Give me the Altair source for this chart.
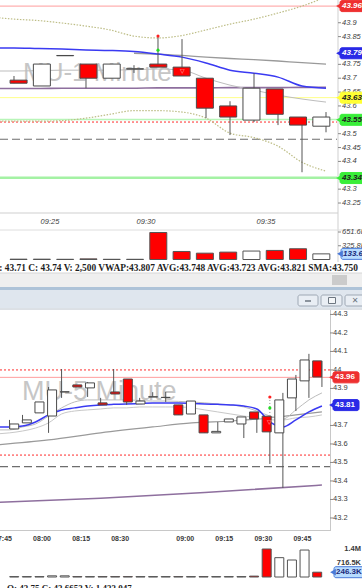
import altair as alt
import pandas as pd

# ======================= DATA =======================
# ---------- top window: MU 1-minute (bar index; 09:24 ... 09:37) ----------
top_bar = [0, 1, 2, 3, 4, 5, 6, 7, 8, 9, 10, 11, 12, 13]
top_open = [43.693, 43.672, 43.782, 43.751, 43.700, 43.734, 43.751, 43.740, 43.700, 43.600, 43.549, 43.661, 43.560, 43.527]
top_close = [43.682, 43.751, 43.781, 43.700, 43.751, 43.733, 43.740, 43.708, 43.592, 43.560, 43.664, 43.570, 43.531, 43.560]
top_high = [43.708, 43.751, 43.782, 43.751, 43.751, 43.747, 43.848, 43.841, 43.700, 43.617, 43.718, 43.661, 43.560, 43.578]
top_low = [43.682, 43.672, 43.781, 43.664, 43.700, 43.719, 43.740, 43.708, 43.556, 43.495, 43.542, 43.531, 43.361, 43.505]
top_dir = ["down", "up", "flat", "down", "up", "flat", "down", "down", "down", "down", "up", "down", "down", "up"]
top_volume = [8000, 8000, 5000, 15000, 5000, 5000, 640000, 190000, 150000, 175000, 200000, 215000, 255000, 133600]

top_line_bar = [-1, 0, 1, 2, 3, 4, 5, 6, 7, 8, 9, 10, 11, 12, 13]
top_vwap = [43.809, 43.809, 43.807, 43.805, 43.802, 43.800, 43.796, 43.787, 43.776, 43.755, 43.729, 43.718, 43.704, 43.672, 43.664]
top_upper_band = [43.921, 43.913, 43.908, 43.899, 43.888, 43.874, 43.852, 43.845, 43.854, 43.874, 43.895, 43.913, 43.935, 43.960, 43.993]
top_lower_band = [43.545, 43.545, 43.545, 43.547, 43.556, 43.570, 43.583, 43.583, 43.578, 43.556, 43.502, 43.486, 43.455, 43.397, 43.365]
top_avg_slow = [43.663, 43.663, 43.663, 43.664, 43.664, 43.664, 43.664, 43.665, 43.665, 43.665, 43.666, 43.666, 43.666, 43.667, 43.667]
top_avg_fast = [43.726, 43.726, 43.727, 43.729, 43.729, 43.729, 43.731, 43.733, 43.729, 43.700, 43.675, 43.657, 43.639, 43.625, 43.614]
top_sma_bar = [5, 6, 7, 8, 9, 10, 11, 12, 13]
top_sma = [43.790, 43.787, 43.782, 43.776, 43.771, 43.767, 43.762, 43.756, 43.751]

top_signal_bar = [6]
top_signal_red = [43.852]
top_signal_green = [43.801]
top_arrow_bar = [7]
top_arrow_price = [43.725]

top_level_resistance = 43.96
top_level_yellow = 43.63
top_level_green = 43.551
top_level_red_dotted = 43.542
top_level_dashed = 43.48
top_level_support = 43.341

top_tick_values = [43.9, 43.85, 43.75, 43.7, 43.65, 43.6, 43.5, 43.45, 43.4, 43.3, 43.25]
top_tick_labels = ["43.9", "43.85", "43.75", "43.7", "43.65", "43.6", "43.5", "43.45", "43.4", "43.3", "43.25"]
top_tag_values = [43.96, 43.79, 43.63, 43.55, 43.34]
top_tag_labels = ["43.96", "43.79", "43.63", "43.55", "43.34"]
top_time_pos = [1.5, 5.5, 10.5]
top_time_labels = ["09:25", "09:30", "09:35"]
top_vol_ticks = [651600, 325800]
top_vol_labels = ["651.6K", "325.8K"]
top_vol_tag = [133600]
top_vol_tag_label = ["133.6K"]
top_status = "L: 43.71 C: 43.74 V: 2,500 VWAP:43.807 AVG:43.748 AVG:43.723 AVG:43.821 SMA:43.750"

# ---------- bottom window: MU 5-minute (bar index; 07:45 ... 09:50) ----------
bot_bar = list(range(25))
bot_open = [43.681, 43.714, 43.768, 43.751, 43.882, 43.919, 43.903, 43.822, 43.881, 43.951, 43.816, 43.855, 43.852, 43.811, 43.762,
            43.757, 43.660, 43.719, 43.708, 43.773, 43.750, 43.660, 43.849, 43.941, 44.049]
bot_close = [43.708, 43.730, 43.827, 43.892, 43.881, 43.908, 43.930, 43.811, 43.870, 43.827, 43.832, 43.854, 43.851, 43.757, 43.832,
             43.660, 43.668, 43.735, 43.746, 43.735, 43.6653, 43.838, 43.951, 44.054, 43.962]
bot_high = [43.730, 43.757, 43.827, 43.908, 44.005, 43.919, 43.935, 43.849, 44.005, 43.951, 43.849, 43.880, 43.881, 43.811, 43.832,
            43.757, 43.719, 43.735, 43.746, 43.773, 43.750, 43.876, 43.973, 44.087, 44.049]
bot_low = [43.681, 43.714, 43.768, 43.660, 43.849, 43.908, 43.854, 43.811, 43.870, 43.811, 43.816, 43.854, 43.827, 43.757, 43.762,
           43.660, 43.660, 43.719, 43.632, 43.660, 43.492, 43.362, 43.778, 43.849, 43.908]
bot_dir = ["up", "up", "up", "up", "flat", "down", "up", "down", "down", "down", "up", "flat", "flat", "down", "up",
           "down", "up", "up", "up", "down", "down", "up", "up", "up", "down"]
bot_volume = [20000, 20000, 20000, 60000, 60000, 20000, 20000, 20000, 20000, 20000, 20000, 20000, 20000, 20000, 20000,
              20000, 20000, 20000, 20000, 45000, 1433047, 990000, 870000, 1380000, 246300]

bot_line_bar = list(range(-1, 25))
bot_vwap = [43.692, 43.692, 43.697, 43.719, 43.757, 43.784, 43.795, 43.805, 43.811, 43.814, 43.816, 43.819, 43.822, 43.822,
            43.822, 43.819, 43.816, 43.814, 43.811, 43.805, 43.789, 43.719, 43.692, 43.730, 43.773, 43.805]
bot_avg_a = [43.676, 43.676, 43.692, 43.708, 43.751, 43.795, 43.827, 43.838, 43.838, 43.838, 43.838, 43.835, 43.832, 43.832,
             43.830, 43.827, 43.822, 43.816, 43.811, 43.800, 43.778, 43.751, 43.735, 43.784, 43.838, 43.876]
bot_avg_b = [43.654, 43.660, 43.670, 43.686, 43.714, 43.762, 43.778, 43.784, 43.789, 43.795, 43.795, 43.800, 43.800, 43.800,
             43.800, 43.795, 43.784, 43.773, 43.762, 43.751, 43.741, 43.730, 43.730, 43.741, 43.746, 43.757]
bot_sma_bar = [-1, 3, 7, 11, 14, 17, 20, 22, 24]
bot_sma = [43.595, 43.622, 43.660, 43.692, 43.714, 43.724, 43.741, 43.757, 43.773]
bot_slow_bar = [-1, 7, 15, 24]
bot_slow = [43.284, 43.307, 43.338, 43.378]

bot_signal_bar = [20]
bot_signal_red = [43.854]
bot_signal_green = [43.795]
bot_arrow_price = [43.719]

bot_level_red_dotted_hi = 44.0
bot_level_resistance = 43.96
bot_level_red_dotted_lo = 43.54
bot_level_dashed = 43.478

bot_tick_values = [44.3, 44.2, 44.1, 44.0, 43.9, 43.7, 43.6, 43.5, 43.4, 43.3, 43.2]
bot_tick_labels = ["44.3", "44.2", "44.1", "44", "43.9", "43.7", "43.6", "43.5", "43.4", "43.3", "43.2"]
bot_tag_values = [43.96, 43.81]
bot_tag_labels = ["43.96", "43.81"]
bot_time_pos = [-0.5, 2.5, 5.5, 8.5, 13.5, 16.5, 19.5, 22.5]
bot_time_labels = ["07:45", "08:00", "08:15", "08:30", "09:00", "09:15", "09:30", "09:45"]
bot_vol_ticks = [1433047, 716500]
bot_vol_labels = ["1.4M", "716.5K"]
bot_vol_tag = [246300]
bot_vol_tag_label = ["246.3K"]
bot_status = "O: 43.75  C: 43.6653  V: 1,433,047"

# ======================= SCALES (panel placement) =======================
TX = alt.Scale(domain=[-0.583, 13.458], range=[0, 337], nice=False, zero=False)
TY = alt.Scale(domain=[43.214, 43.982], range=[213, 0], nice=False, zero=False)
TV = alt.Scale(domain=[0, 651600], range=[259.5, 232], nice=False, zero=False)
BX = alt.Scale(domain=[-0.73, 24.62], range=[0, 330], nice=False, zero=False)
BY = alt.Scale(domain=[43.135, 44.324], range=[530, 310], nice=False, zero=False)
BV = alt.Scale(domain=[0, 1433047], range=[577, 549], nice=False, zero=False)
DIR = alt.Scale(domain=["down", "up", "flat"], range=["#ff0000", "#ffffff", "#ffffff"])

ONE = pd.DataFrame({"k": [0]})
layers = []


def box(x0, x1, y0, y1, fill, stroke=None, sw=1, radius=0):
    p = dict(fill=fill)
    if stroke:
        p.update(stroke=stroke, strokeWidth=sw)
    if radius:
        p["cornerRadius"] = radius
    return alt.Chart(ONE).mark_rect(**p).encode(
        x=alt.value(x0), x2=alt.value(x1), y=alt.value(y0), y2=alt.value(y1))


def seg(x0, x1, y0, y1, color, width=1):
    return alt.Chart(ONE).mark_rule(color=color, strokeWidth=width).encode(
        x=alt.value(x0), x2=alt.value(x1), y=alt.value(y0), y2=alt.value(y1))


def label(x, y, text, **style):
    return alt.Chart(pd.DataFrame({"t": [text]})).mark_text(**style).encode(
        x=alt.value(x), y=alt.value(y), text="t:N")


def hlevel(value, ys, x0, x1, color, width=1, dash=None):
    p = dict(color=color, strokeWidth=width)
    if dash:
        p["strokeDash"] = dash
    return alt.Chart(pd.DataFrame({"v": [value]})).mark_rule(**p).encode(
        x=alt.value(x0), x2=alt.value(x1), y=alt.Y("v:Q", scale=ys, axis=None))


def line(bars, vals, xs, ys, color, width=1.0, dash=None):
    p = dict(color=color, strokeWidth=width, interpolate="monotone")
    if dash:
        p["strokeDash"] = dash
    return alt.Chart(pd.DataFrame({"bar": bars, "v": vals})).mark_line(**p).encode(
        x=alt.X("bar:Q", scale=xs, axis=None), y=alt.Y("v:Q", scale=ys, axis=None))


def candles(bars, o, c, h, l, d, xs, ys, width):
    data = pd.DataFrame({"bar": bars, "open": o, "close": c, "high": h, "low": l, "dir": d})
    base = alt.Chart(data)
    wick = base.mark_rule(color="#555555", strokeWidth=1).encode(
        x=alt.X("bar:Q", scale=xs, axis=None), y=alt.Y("low:Q", scale=ys, axis=None), y2="high:Q")
    body = base.mark_bar(size=width, orient="vertical", stroke="#4a4a4a", strokeWidth=1).encode(
        x=alt.X("bar:Q", scale=xs, axis=None), y=alt.Y("open:Q", scale=ys, axis=None), y2="close:Q",
        fill=alt.Fill("dir:N", scale=DIR, legend=None))
    return [wick, body]


def volume(bars, vols, d, xs, ys, width):
    data = pd.DataFrame({"bar": bars, "vol": vols, "dir": d})
    return alt.Chart(data).mark_bar(size=width, orient="vertical", stroke="#555555", strokeWidth=1).encode(
        x=alt.X("bar:Q", scale=xs, axis=None), y=alt.Y("vol:Q", scale=ys, axis=None),
        fill=alt.Fill("dir:N", scale=DIR, legend=None))


def ylabels(vals, texts, ys, x, tick_x0, tick_x1, **style):
    data = pd.DataFrame({"v": vals, "t": texts})
    ticks = alt.Chart(data).mark_rule(color="#8a8a8a", strokeWidth=1).encode(
        x=alt.value(tick_x0), x2=alt.value(tick_x1), y=alt.Y("v:Q", scale=ys, axis=None))
    txt = alt.Chart(data).mark_text(align="left", baseline="middle", **style).encode(
        x=alt.value(x), y=alt.Y("v:Q", scale=ys, axis=None), text="t:N")
    return [ticks, txt]


def xlabels(pos, texts, xs, y, **style):
    return alt.Chart(pd.DataFrame({"p": pos, "t": texts})).mark_text(align="center", baseline="middle", **style).encode(
        x=alt.X("p:Q", scale=xs, axis=None), y=alt.value(y), text="t:N")


def tag(vals, texts, ys, x0, x1, fill, fg, stroke=None, italic=True, size=8):
    data = pd.DataFrame({"v": vals, "t": texts})
    base = alt.Chart(data)
    rect = base.mark_rect(fill=fill, stroke=stroke or fill, strokeWidth=1, cornerRadius=2,
                          yOffset=-5.5, y2Offset=5.5).encode(
        x=alt.value(x0), x2=alt.value(x1), y=alt.Y("v:Q", scale=ys, axis=None), y2="v:Q")
    tip = base.mark_point(shape="triangle-left", filled=True, fill=stroke or fill, size=45, strokeWidth=0, opacity=1).encode(
        x=alt.value(x0 - 1), y=alt.Y("v:Q", scale=ys, axis=None))
    st = dict(align="left", baseline="middle", fontSize=size, fontWeight="bold", color=fg, font="Liberation Sans")
    if italic:
        st["fontStyle"] = "italic"
    txt = base.mark_text(**st).encode(x=alt.value(x0 + 2), y=alt.Y("v:Q", scale=ys, axis=None), text="t:N")
    return [rect, tip, txt]


def points(bars, vals, xs, ys, color, size=10):
    return alt.Chart(pd.DataFrame({"bar": bars, "v": vals})).mark_point(
        shape="circle", filled=True, color=color, size=size, opacity=1).encode(
        x=alt.X("bar:Q", scale=xs, axis=None), y=alt.Y("v:Q", scale=ys, axis=None))


def glyph(bars, vals, xs, ys):
    return alt.Chart(pd.DataFrame({"bar": bars, "v": vals, "t": ["▽"]})).mark_text(
        fontSize=6, color="#ffc0c0", baseline="middle").encode(
        x=alt.X("bar:Q", scale=xs, axis=None), y=alt.Y("v:Q", scale=ys, axis=None), text="t:N")


AX_FONT = "Liberation Sans"

# ======================= TOP WINDOW =======================
layers.append(label(23, 81, "MU-1 Minute", align="left", baseline="alphabetic", fontSize=26,
                    font=AX_FONT, color="#c6c6c6"))
layers.append(hlevel(top_level_resistance, TY, 0, 337, "#ff9d9d", 1))
layers.append(hlevel(top_level_yellow, TY, 0, 337, "#ffff88", 1))
layers.append(hlevel(top_level_green, TY, 0, 337, "#b8f5b8", 1.5))
layers.append(hlevel(top_level_red_dotted, TY, 0, 337, "#ff2a2a", 1, [2, 2]))
layers.append(hlevel(top_level_dashed, TY, 0, 337, "#6e6e6e", 1.2, [8, 4]))
layers.append(hlevel(top_level_support, TY, 0, 337, "#a4f2a4", 2.5))
layers.append(line(top_line_bar, top_upper_band, TX, TY, "#bdbd86", 1.2, [1.5, 1.5]))
layers.append(line(top_line_bar, top_lower_band, TX, TY, "#bdbd86", 1.2, [1.5, 1.5]))
layers.append(line(top_line_bar, top_avg_slow, TX, TY, "#8e6f9e", 1.6))
layers.append(line(top_line_bar, top_avg_fast, TX, TY, "#bdbdbd", 1))
layers.append(line(top_sma_bar, top_sma, TX, TY, "#9a9a9a", 1.3))
layers.append(line(top_line_bar, top_vwap, TX, TY, "#3a3af2", 1.5))
layers += candles(top_bar, top_open, top_close, top_high, top_low, top_dir, TX, TY, 17)
layers.append(points(top_signal_bar, top_signal_red, TX, TY, "#ff2020"))
layers.append(points(top_signal_bar, top_signal_green, TX, TY, "#20e020"))
layers.append(glyph(top_arrow_bar, top_arrow_price, TX, TY))

# frame of the top price / volume panels
layers.append(seg(0, 338, 213, 213, "#cfcfcf"))
layers.append(seg(338, 338, 0, 262, "#cfcfcf"))
layers.append(seg(0, 362, 230, 230, "#dedede"))

layers += ylabels(top_tick_values, top_tick_labels, TY, 342, 338, 341, fontSize=7.5, fontStyle="italic",
                  font=AX_FONT, color="#3c3c3c")
top_tag_style = [("#ee3030", "white"), ("#2a2ae6", "white"), ("#ffff33", "#202020"),
                 ("#39ee39", "#202020"), ("#39ee39", "#202020")]
for v, t, (bg, fg) in zip(top_tag_values, top_tag_labels, top_tag_style):
    layers += tag([v], [t], TY, 340, 364, bg, fg)
layers.append(xlabels(top_time_pos, top_time_labels, TX, 222, fontSize=7.5, fontStyle="italic",
                      font=AX_FONT, color="#3c3c3c"))

layers.append(volume(top_bar, top_volume, top_dir, TX, TV, 17))
layers += ylabels(top_vol_ticks, top_vol_labels, TV, 342, 338, 341, fontSize=7.5, fontStyle="italic",
                  font=AX_FONT, color="#3c3c3c")
layers += tag(top_vol_tag, top_vol_tag_label, TV, 341, 366, "#b8dcff", "#1a2a7a", stroke="#4a7ad8")

layers.append(label(358, 271, top_status, align="right", baseline="alphabetic", fontSize=9.4,
                    fontWeight="bold", font="Liberation Serif", color="#1e1e1e"))

# scroll bar + window chrome between the two charts
layers.append(box(0, 362, 273, 287, "#efefef"))
layers.append(seg(0, 362, 273, 273, "#d6d6d6"))
layers.append(box(332, 347, 275, 285, "#cbcbcb"))
layers.append(box(0, 362, 287, 290, "#aec3d8"))
layers.append(box(0, 362, 290, 308, "#dfe6ee"))
layers.append(seg(0, 362, 309, 309, "#b9c2cc"))
layers.append(box(298, 318, 295, 306, "#e9eef4", "#9ea8b4", 1, 2))
layers.append(box(321, 342, 295, 306, "#e9eef4", "#9ea8b4", 1, 2))
layers.append(box(345, 366, 295, 306, "#e9eef4", "#9ea8b4", 1, 2))
layers.append(seg(305, 311, 301, 301, "#6d7680", 1.5))
layers.append(box(328.5, 335.5, 297.5, 303.5, "#f4f6f8", "#6d7680", 1))
layers.append(label(355, 301, "✕", align="center", baseline="middle", fontSize=8, color="#6d7680", font="DejaVu Sans"))

# ======================= BOTTOM WINDOW =======================
layers.append(label(22, 400, "MU-5 Minute", align="left", baseline="alphabetic", fontSize=27,
                    font=AX_FONT, color="#c6c6c6"))
layers.append(hlevel(bot_level_red_dotted_hi, BY, 0, 330, "#ff2a2a", 1, [2, 2]))
layers.append(hlevel(bot_level_resistance, BY, 0, 330, "#ff9d9d", 1))
layers.append(hlevel(bot_level_red_dotted_lo, BY, 0, 330, "#ff2a2a", 1, [2, 2]))
layers.append(hlevel(bot_level_dashed, BY, 0, 330, "#6e6e6e", 1.2, [8, 4]))
layers.append(line(bot_slow_bar, bot_slow, BX, BY, "#8e6f9e", 1.6))
layers.append(line(bot_sma_bar, bot_sma, BX, BY, "#9a9a9a", 1.2))
layers.append(line(bot_line_bar, bot_avg_b, BX, BY, "#c8c8c8", 1))
layers.append(line(bot_line_bar, bot_avg_a, BX, BY, "#bcbcbc", 1))
layers.append(line(bot_line_bar, bot_vwap, BX, BY, "#3a3af2", 1.5))
layers += candles(bot_bar, bot_open, bot_close, bot_high, bot_low, bot_dir, BX, BY, 9)
layers.append(alt.Chart(pd.DataFrame({"bar": bot_signal_bar, "a": bot_signal_red, "b": [bot_open[20]]}))
              .mark_rule(color="#8a8a8a", strokeDash=[1, 2], strokeWidth=1)
              .encode(x=alt.X("bar:Q", scale=BX, axis=None), y=alt.Y("a:Q", scale=BY, axis=None), y2="b:Q"))
layers.append(points(bot_signal_bar, bot_signal_red, BX, BY, "#ff2020"))
layers.append(points(bot_signal_bar, bot_signal_green, BX, BY, "#20e020"))
layers.append(glyph(bot_signal_bar, bot_arrow_price, BX, BY))

layers.append(seg(330.5, 330.5, 310, 531, "#c8c8c8"))
layers.append(seg(0, 331, 530.5, 530.5, "#c8c8c8"))

layers += ylabels(bot_tick_values, bot_tick_labels, BY, 333, 330, 333, fontSize=7.5,
                  font=AX_FONT, color="#3c3c3c")
bot_tag_style = [("#ee3030", "white"), ("#2a2ae6", "white")]
for v, t, (bg, fg) in zip(bot_tag_values, bot_tag_labels, bot_tag_style):
    layers += tag([v], [t], BY, 333, 359, bg, fg, italic=False)
layers.append(xlabels(bot_time_pos, bot_time_labels, BX, 539, fontSize=7, fontWeight="bold",
                      font=AX_FONT, color="#3a3a3a"))

layers.append(volume(bot_bar, bot_volume, bot_dir, BX, BV, 9))
layers.append(alt.Chart(pd.DataFrame({"v": bot_vol_ticks, "t": bot_vol_labels})).mark_text(
    align="right", baseline="middle", fontSize=7.5, fontWeight="bold", font=AX_FONT, color="#3a3a3a").encode(
    x=alt.value(361), y=alt.Y("v:Q", scale=BV, axis=None), text="t:N"))
layers += tag(bot_vol_tag, bot_vol_tag_label, BV, 334, 366, "#b8dcff", "#1a2a7a", stroke="#4a7ad8", italic=False)

layers.append(label(7, 591, bot_status, align="left", baseline="alphabetic", fontSize=9,
                    fontWeight="bold", font="Liberation Serif", color="#1e1e1e"))

chart = (
    alt.layer(*layers)
    .resolve_scale(x="independent", y="independent", fill="independent")
    .properties(width=362, height=588, padding=0, background="white",
                autosize=alt.AutoSizeParams(type="none"))
    .configure_view(stroke=None)
)

chart.save("out.html", embed_options={"renderer": "svg", "actions": False})
